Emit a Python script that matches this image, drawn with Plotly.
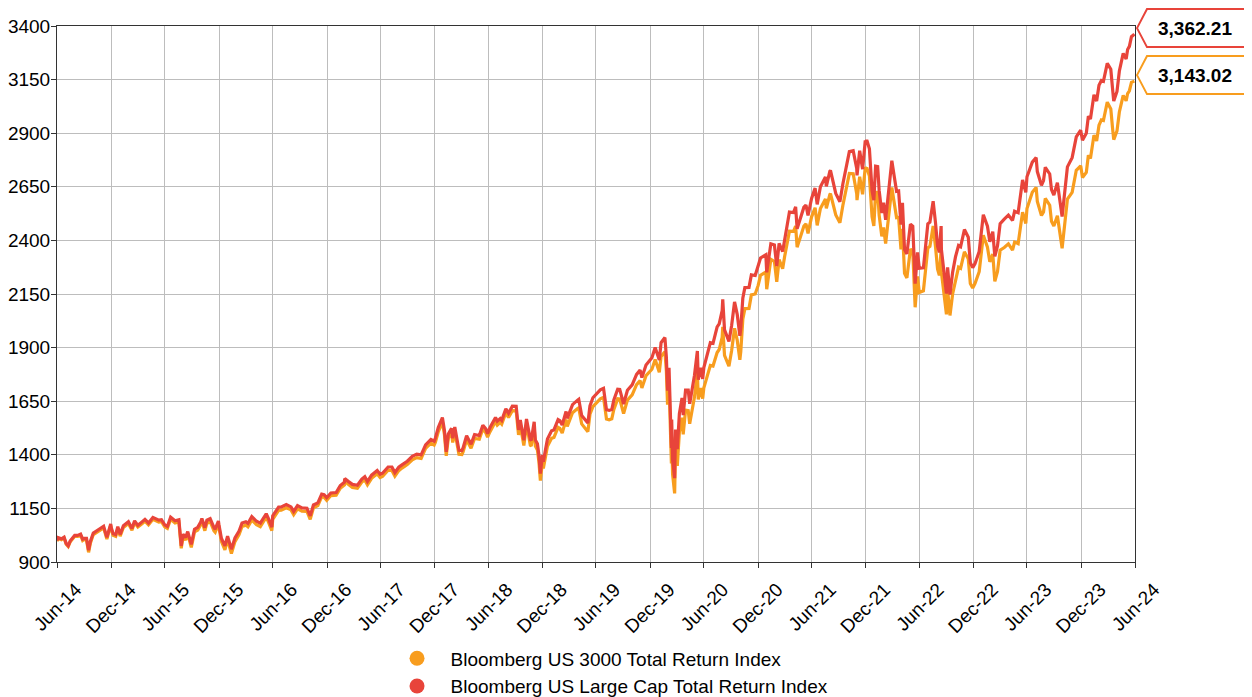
import plotly.graph_objects as go

# ---------------- data ----------------
dates = [
    # 2014
    "2014-06-30","2014-07-03","2014-07-15","2014-07-24","2014-07-31","2014-08-07","2014-08-14","2014-08-29","2014-09-08","2014-09-18","2014-09-25","2014-09-30","2014-10-08","2014-10-15","2014-10-21","2014-10-31","2014-11-13","2014-11-28","2014-12-05","2014-12-16","2014-12-29","2014-12-31",
    # 2015
    "2015-01-06","2015-01-15","2015-01-22","2015-01-30","2015-02-10","2015-02-27","2015-03-11","2015-03-20","2015-03-31","2015-04-13","2015-04-24","2015-05-06","2015-05-21","2015-06-10","2015-06-19","2015-06-30","2015-07-09","2015-07-20","2015-07-31","2015-08-04","2015-08-17","2015-08-25","2015-08-31","2015-09-09","2015-09-16","2015-09-28","2015-10-09","2015-10-20","2015-10-30","2015-11-03","2015-11-13","2015-11-20","2015-12-01","2015-12-09","2015-12-14","2015-12-18","2015-12-29","2015-12-31",
    # 2016
    "2016-01-08","2016-01-20","2016-01-29","2016-02-11","2016-02-23","2016-03-08","2016-03-18","2016-03-31","2016-04-07","2016-04-20","2016-05-06","2016-05-19","2016-06-08","2016-06-16","2016-06-27","2016-06-30","2016-07-08","2016-07-20","2016-07-29","2016-08-15","2016-08-31","2016-09-09","2016-09-22","2016-10-07","2016-10-24","2016-11-04","2016-11-15","2016-11-30","2016-12-13","2016-12-21","2016-12-30",
    # 2017
    "2017-01-13","2017-01-31","2017-02-14","2017-02-28","2017-03-01","2017-03-14","2017-03-27","2017-04-13","2017-04-28","2017-05-08","2017-05-17","2017-05-31","2017-06-19","2017-06-29","2017-07-07","2017-07-26","2017-08-08","2017-08-18","2017-08-31","2017-09-11","2017-09-29","2017-10-16","2017-10-31","2017-11-15","2017-11-30","2017-12-18","2017-12-29",
    # 2018
    "2018-01-02","2018-01-12","2018-01-26","2018-02-02","2018-02-08","2018-02-15","2018-02-26","2018-03-02","2018-03-09","2018-03-23","2018-04-02","2018-04-06","2018-04-18","2018-05-03","2018-05-15","2018-05-31","2018-06-12","2018-06-22","2018-06-28","2018-07-06","2018-07-25","2018-07-31","2018-08-10","2018-08-15","2018-08-29","2018-09-07","2018-09-20","2018-10-03","2018-10-11","2018-10-17","2018-10-29","2018-11-07","2018-11-20","2018-11-23","2018-12-03","2018-12-07","2018-12-14","2018-12-19","2018-12-24","2018-12-31",
    # 2019
    "2019-01-03","2019-01-17","2019-01-31","2019-02-08","2019-02-22","2019-02-28","2019-03-08","2019-03-21","2019-03-25","2019-04-12","2019-04-30","2019-05-03","2019-05-13","2019-05-31","2019-06-03","2019-06-10","2019-06-20","2019-07-15","2019-07-26","2019-08-05","2019-08-14","2019-08-23","2019-08-30","2019-09-12","2019-09-19","2019-10-02","2019-10-15","2019-10-31","2019-11-15","2019-11-27","2019-12-03","2019-12-17","2019-12-31",
    # 2020
    "2020-01-06","2020-01-17","2020-01-27","2020-01-31","2020-02-06","2020-02-19","2020-02-24","2020-02-28","2020-03-04","2020-03-09","2020-03-12","2020-03-13","2020-03-16","2020-03-23","2020-03-26","2020-04-01","2020-04-08","2020-04-17","2020-04-21","2020-04-29","2020-05-08","2020-05-13","2020-05-29","2020-06-08","2020-06-11","2020-06-19","2020-06-26","2020-06-30","2020-07-10","2020-07-22","2020-07-31","2020-08-14","2020-08-21","2020-08-31","2020-09-02","2020-09-08","2020-09-23","2020-10-02","2020-10-12","2020-10-21","2020-10-30","2020-11-02","2020-11-09","2020-11-16","2020-11-30","2020-12-08","2020-12-21","2020-12-31",
    # 2021
    "2021-01-08","2021-01-26","2021-01-29","2021-02-12","2021-02-24","2021-03-04","2021-03-12","2021-03-24","2021-03-31","2021-04-16","2021-04-30","2021-05-07","2021-05-12","2021-05-31","2021-06-04","2021-06-11","2021-06-18","2021-06-30","2021-07-12","2021-07-19","2021-07-30","2021-08-16","2021-08-19","2021-08-31","2021-09-02","2021-09-20","2021-09-30","2021-10-04","2021-10-14","2021-10-29","2021-11-05","2021-11-18","2021-11-30","2021-12-01","2021-12-10","2021-12-20","2021-12-29","2021-12-31",
    # 2022
    "2022-01-03","2022-01-12","2022-01-21","2022-01-27","2022-02-02","2022-02-09","2022-02-14","2022-02-23","2022-03-01","2022-03-08","2022-03-16","2022-03-29","2022-04-05","2022-04-14","2022-04-21","2022-04-29","2022-05-04","2022-05-11","2022-05-19","2022-05-26","2022-05-31","2022-06-08","2022-06-16","2022-06-24","2022-06-30","2022-07-14","2022-07-22","2022-07-29","2022-08-05","2022-08-16","2022-08-24","2022-08-31","2022-09-06","2022-09-12","2022-09-13","2022-09-23","2022-09-30","2022-10-04","2022-10-12","2022-10-21","2022-10-31","2022-11-10","2022-11-17","2022-11-30","2022-12-01","2022-12-13","2022-12-20","2022-12-28",
    # 2023
    "2023-01-05","2023-01-19","2023-01-27","2023-02-02","2023-02-16","2023-02-24","2023-03-06","2023-03-13","2023-03-22","2023-03-31","2023-04-14","2023-04-28","2023-05-12","2023-05-19","2023-05-31","2023-06-15","2023-06-26","2023-06-30","2023-07-18","2023-07-31","2023-08-04","2023-08-18","2023-08-25","2023-08-31","2023-09-15","2023-09-21","2023-09-29","2023-10-11","2023-10-27","2023-11-14","2023-11-30","2023-12-14","2023-12-29",
    # 2024
    "2024-01-04","2024-01-17","2024-01-24","2024-01-31","2024-02-12","2024-02-21","2024-02-29","2024-03-08","2024-03-15","2024-03-28","2024-04-09","2024-04-15","2024-04-19","2024-04-30","2024-05-08","2024-05-21","2024-05-31","2024-06-05","2024-06-11","2024-06-18","2024-06-28",
]

large_cap = [
    # 2014
    1000,1014,1008,1016,987,976,999,1024,1024,1030,1007,1010,1010,955,996,1035,1047,1063,1067,1015,1077,1060,
    # 2015
    1033,1028,1065,1029,1069,1088,1056,1092,1071,1086,1099,1082,1108,1095,1097,1073,1066,1109,1096,1092,1097,975,1029,1014,1042,982,1053,1062,1087,1103,1060,1095,1102,1072,1060,1053,1091,1073,
    # 2016
    1011,975,1020,960,1012,1044,1082,1088,1080,1112,1090,1081,1125,1101,1063,1115,1133,1156,1157,1168,1157,1136,1163,1152,1151,1115,1166,1176,1217,1214,1200,
    # 2017
    1222,1224,1257,1272,1289,1275,1262,1258,1287,1298,1275,1305,1327,1309,1314,1343,1343,1317,1342,1353,1370,1393,1403,1400,1446,1471,1463,
    # 2018
    1477,1527,1574,1513,1414,1497,1523,1477,1530,1421,1420,1432,1489,1449,1494,1490,1538,1521,1499,1526,1574,1557,1569,1561,1614,1594,1627,1626,1516,1562,1468,1567,1471,1467,1554,1469,1451,1399,1312,1399,
    # 2019
    1368,1474,1512,1516,1564,1559,1539,1602,1570,1634,1656,1659,1583,1549,1548,1628,1666,1703,1710,1610,1607,1611,1656,1706,1705,1637,1701,1726,1775,1795,1760,1819,1842,
    # 2020
    1853,1901,1853,1842,1923,1947,1855,1699,1806,1585,1432,1564,1377,1291,1518,1426,1592,1665,1585,1702,1702,1638,1769,1884,1750,1806,1754,1807,1867,1923,1920,1997,2011,2072,2125,1983,1929,2002,2113,2055,1955,1989,2130,2180,2181,2239,2236,2276,
    # 2021
    2318,2333,2251,2384,2379,2280,2386,2348,2404,2532,2530,2557,2454,2539,2555,2565,2516,2596,2644,2568,2650,2696,2652,2723,2727,2619,2589,2580,2663,2763,2814,2818,2736,2703,2818,2732,2866,2850,
    # 2022
    2869,2827,2631,2588,2746,2744,2633,2528,2576,2496,2607,2772,2709,2629,2631,2474,2575,2357,2337,2431,2476,2466,2198,2344,2270,2272,2375,2477,2485,2583,2482,2373,2344,2467,2358,2215,2152,2274,2147,2252,2325,2376,2370,2450,2448,2415,2296,2273,
    # 2023
    2292,2348,2452,2520,2466,2394,2441,2325,2374,2478,2499,2518,2493,2536,2529,2682,2624,2697,2765,2786,2721,2657,2679,2741,2710,2637,2611,2669,2511,2743,2786,2883,2914,
    # 2024
    2867,2900,2979,2966,3079,3050,3124,3146,3142,3226,3198,3107,3050,3095,3190,3272,3246,3290,3305,3350,3362.21,
]

us3000 = [
    # 2014
    997,1010,1004,1012,983,972,995,1020,1019,1025,1000,1005,1001,945,987,1028,1039,1055,1059,1007,1070,1053,
    # 2015
    1025,1020,1057,1021,1061,1080,1048,1084,1063,1077,1090,1073,1099,1086,1088,1064,1057,1099,1086,1082,1087,964,1018,1003,1031,968,1040,1049,1074,1090,1046,1081,1088,1058,1045,1039,1078,1060,
    # 2016
    996,957,1005,939,995,1028,1066,1072,1064,1096,1074,1065,1109,1085,1046,1099,1117,1141,1142,1153,1143,1121,1148,1137,1136,1099,1153,1163,1205,1202,1188,
    # 2017
    1210,1212,1244,1259,1276,1261,1248,1244,1273,1283,1260,1290,1312,1294,1299,1328,1327,1300,1326,1338,1355,1377,1387,1383,1430,1454,1446,
    # 2018
    1458,1507,1552,1493,1395,1477,1502,1457,1510,1402,1401,1413,1470,1431,1476,1473,1521,1503,1482,1507,1555,1538,1551,1543,1596,1574,1606,1605,1493,1538,1443,1541,1445,1441,1527,1441,1422,1368,1280,1368,
    # 2019
    1336,1440,1477,1481,1528,1523,1501,1565,1532,1596,1617,1619,1544,1508,1508,1589,1625,1661,1668,1567,1563,1568,1612,1661,1660,1592,1655,1680,1727,1746,1712,1769,1791,
    # 2020
    1799,1844,1797,1785,1859,1881,1790,1634,1735,1510,1360,1485,1310,1220,1438,1348,1505,1573,1495,1608,1606,1545,1668,1786,1658,1711,1662,1713,1766,1817,1814,1877,1891,1948,1997,1864,1813,1885,1990,1935,1843,1880,2032,2082,2083,2146,2150,2190,
    # 2021
    2237,2252,2172,2312,2302,2207,2310,2268,2327,2443,2442,2467,2368,2450,2467,2477,2433,2510,2552,2470,2549,2593,2549,2614,2618,2519,2490,2482,2563,2658,2712,2711,2618,2588,2697,2615,2743,2727,
    # 2022
    2740,2700,2510,2468,2624,2624,2518,2419,2460,2385,2490,2647,2585,2506,2507,2358,2454,2246,2225,2317,2360,2348,2088,2232,2157,2165,2264,2365,2372,2467,2370,2266,2237,2356,2252,2114,2055,2170,2050,2150,2220,2275,2270,2347,2344,2314,2199,2178,
    # 2023
    2200,2254,2356,2424,2368,2300,2336,2209,2254,2354,2367,2384,2355,2392,2385,2532,2479,2549,2625,2647,2582,2516,2533,2596,2564,2489,2467,2515,2363,2593,2624,2727,2748,
    # 2024
    2693,2717,2797,2782,2891,2864,2937,2962,2959,3045,3013,2922,2870,2911,2999,3076,3051,3085,3098,3137,3143.02,
]

assert len(dates) == len(large_cap) == len(us3000), (len(dates), len(large_cap), len(us3000))

series_names = ["Bloomberg US 3000 Total Return Index", "Bloomberg US Large Cap Total Return Index"]
series_colors = ["#F89D1E", "#E8443A"]

tick_dates = ["2014-06-30","2014-12-31","2015-06-30","2015-12-31","2016-06-30","2016-12-31",
              "2017-06-30","2017-12-31","2018-06-30","2018-12-31","2019-06-30","2019-12-31",
              "2020-06-30","2020-12-31","2021-06-30","2021-12-31","2022-06-30","2022-12-31",
              "2023-06-30","2023-12-31","2024-06-30"]
tick_labels = ["Jun-14","Dec-14","Jun-15","Dec-15","Jun-16","Dec-16","Jun-17","Dec-17","Jun-18","Dec-18",
               "Jun-19","Dec-19","Jun-20","Dec-20","Jun-21","Dec-21","Jun-22","Dec-22","Jun-23","Dec-23","Jun-24"]

y_min, y_max, y_step = 900, 3400, 250

FONT = "Liberation Sans, Arial, sans-serif"
FS = 19

fig = go.Figure()

# lines (US 3000 underneath, Large Cap on top)
for vals, name, col in [(us3000, series_names[0], series_colors[0]),
                        (large_cap, series_names[1], series_colors[1])]:
    fig.add_trace(go.Scatter(x=dates, y=vals, mode="lines", name=name,
                             line=dict(color=col, width=3.2), showlegend=False))

# legend entries with round markers
for i, (name, col) in enumerate(zip(series_names, series_colors)):
    fig.add_trace(go.Scatter(x=[None], y=[None], mode="markers", name=name,
                             legendgroup="g%d" % i,
                             marker=dict(color=col, size=15, symbol="circle")))

# end-value tags
last_vals = [large_cap[-1], us3000[-1]]
tag_colors = [series_colors[1], series_colors[0]]
for val, col in zip(last_vals, tag_colors):
    yfrac = (val - y_min) / (y_max - y_min)
    fig.add_shape(type="path", xref="paper", yref="paper",
                  xsizemode="pixel", ysizemode="pixel", xanchor=1, yanchor=yfrac,
                  path="M 2,6 L 12,25 L 170,25 L 170,-13 L 12,-13 Z",
                  line=dict(color=col, width=2), fillcolor="white", layer="above")
    fig.add_annotation(x=1, y=yfrac, xref="paper", yref="paper", xanchor="left", yanchor="middle",
                       xshift=21, yshift=6, showarrow=False,
                       text="<b>{:,.2f}</b>".format(val),
                       font=dict(family=FONT, size=FS, color="#000000"))

# the page body adds an 8px offset, so the figure is 8px smaller than the window
fig.update_layout(
    width=1244, height=689, autosize=False,
    margin=dict(l=49, r=117, t=18, b=135, autoexpand=False),
    paper_bgcolor="white", plot_bgcolor="white",
    font=dict(family=FONT, size=FS, color="#000000"),
    legend=dict(orientation="v", x=0.3029, xanchor="left", y=-0.1445, yanchor="top",
                itemwidth=57, font=dict(family=FONT, size=FS, color="#000000"),
                bgcolor="rgba(0,0,0,0)", traceorder="grouped", tracegroupgap=0,
                maxheight=140),
    hovermode=False,
)

fig.update_xaxes(
    type="date", range=["2014-06-30", "2024-06-30"], automargin=False,
    tickmode="array", tickvals=tick_dates, ticktext=tick_labels,
    tickangle=-45, ticks="outside", ticklen=5, tickcolor="#333333",
    showgrid=True, gridcolor="#BDBDBD", gridwidth=1,
    showline=True, linecolor="#333333", linewidth=1, mirror=True,
    tickfont=dict(family=FONT, size=FS, color="#000000"),
    ticklabelshift=19, ticklabelstandoff=3,
)
fig.update_yaxes(
    range=[y_min, y_max], tick0=y_min, dtick=y_step, tickmode="linear", automargin=False,
    ticks="outside", ticklen=5, tickcolor="#333333",
    showgrid=True, gridcolor="#BDBDBD", gridwidth=1,
    showline=True, linecolor="#333333", linewidth=1, mirror=True,
    tickfont=dict(family=FONT, size=FS, color="#000000"),
    ticklabelstandoff=-3, zeroline=False,
)

fig.write_html("out.html")
